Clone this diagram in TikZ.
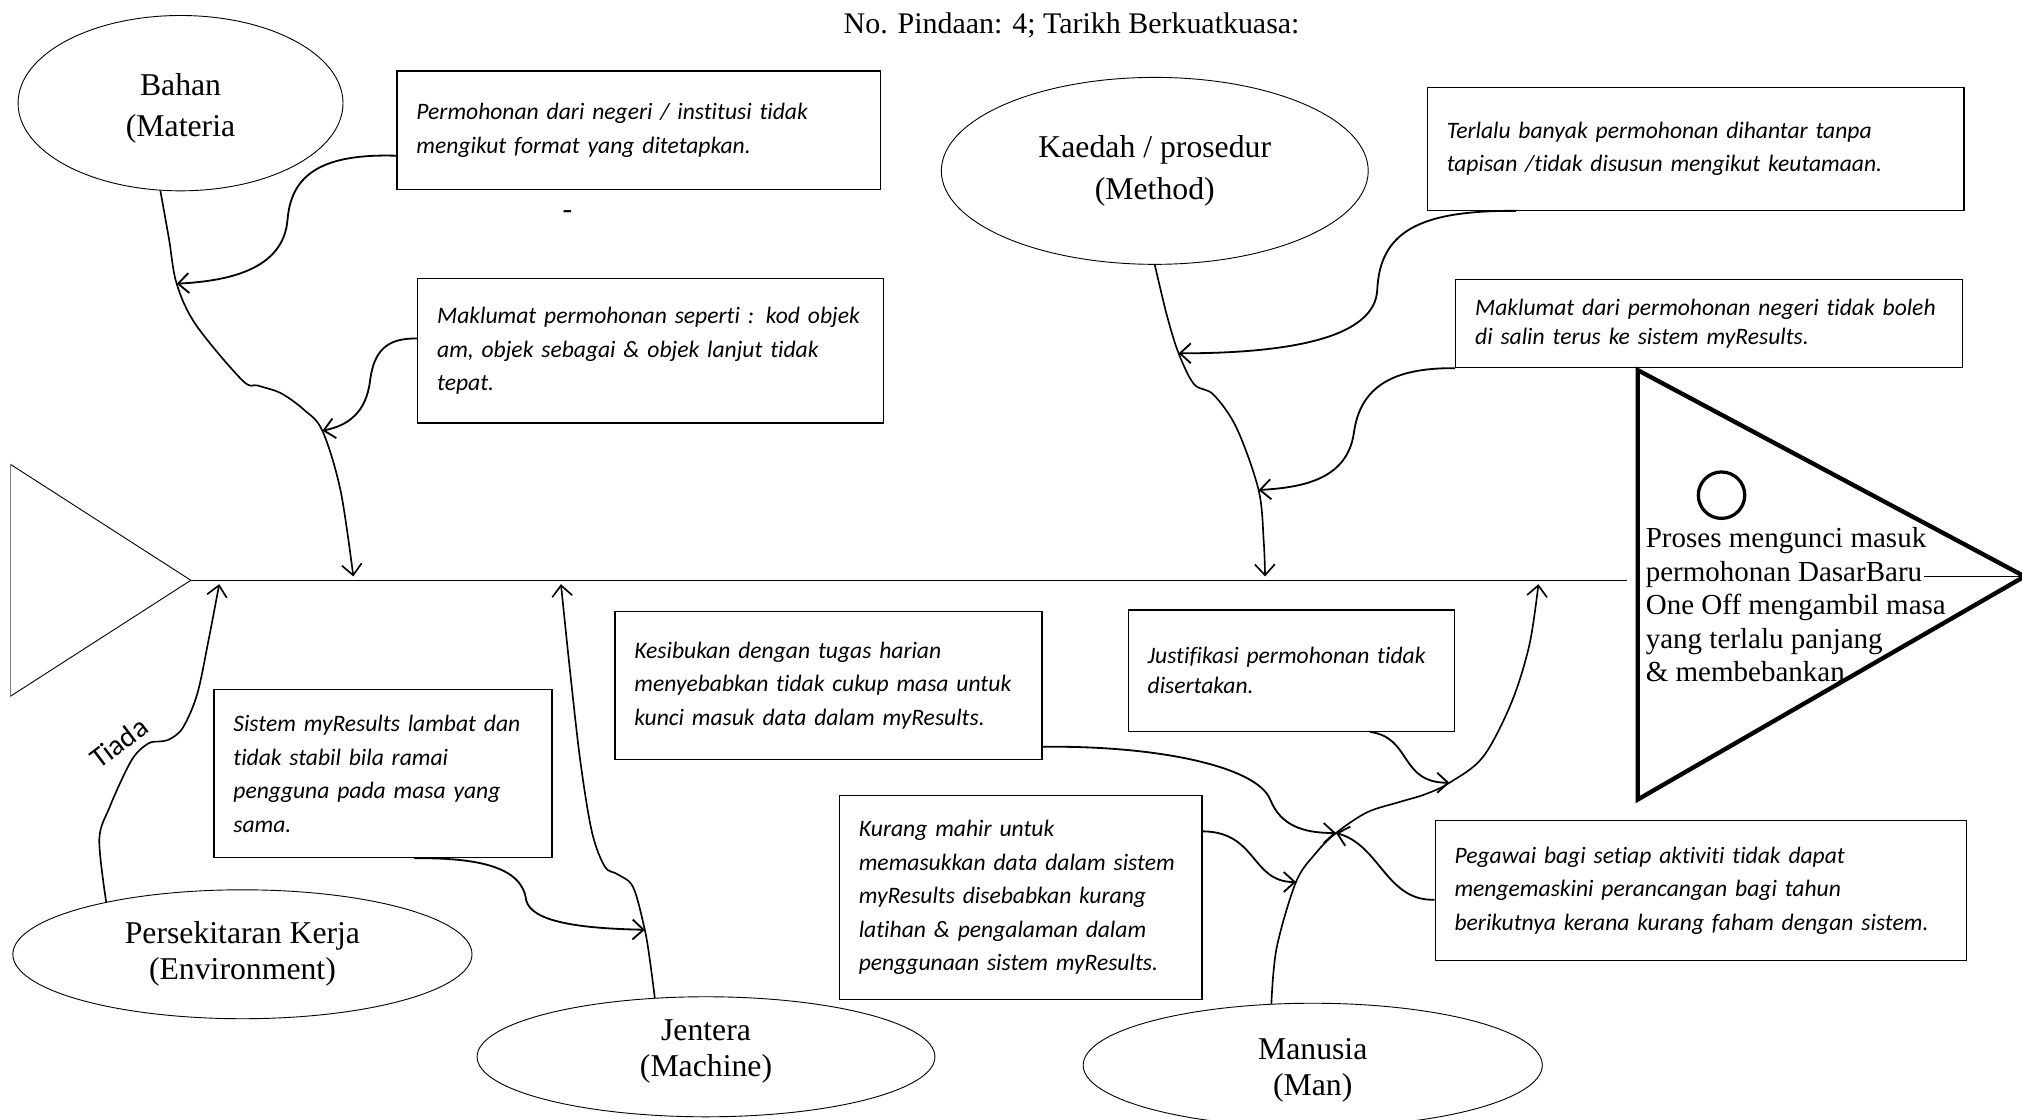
\documentclass[tikz,border=0pt]{standalone}
\usepackage{fontspec}
\setmainfont{Liberation Serif}
\newfontfamily\notefont[Ligatures=NoCommon]{Carlito}
\newcommand{\lowtxt}[1]{\raisebox{0pt}[\dimexpr\height+6pt\relax]{#1}}
\newcommand{\hightxt}[1]{\raisebox{0pt}[\height][\dimexpr\depth+6pt\relax]{#1}}
\usetikzlibrary{arrows.meta, shapes.geometric}

\begin{document}
\begin{tikzpicture}[x=0.025cm, y=-0.025cm,
  cause/.style={ellipse, draw, line width=0.5pt, inner sep=0pt, align=center},
  note/.style={draw, line width=0.7pt, inner xsep=10.67pt, inner ysep=0pt, align=left,
    font=\notefont\itshape\fontsize{13}{18.5}\selectfont},
  bone/.style={line width=0.9pt, -{Straight Barb[length=6pt,width=11pt]}},
  feed/.style={line width=1pt, -{Straight Barb[length=6pt,width=11pt]}},
  head/.style={line width=2.4pt, line join=miter}]

\useasboundingbox (0,0) rectangle (1568,868);

% title
\node[font=\fontsize{16.5}{20}\selectfont] (hdr) at (831,20) {No. Pindaan: 4; Tarikh Berkuatkuasa:};

% tail and spine
\coordinate (tTop) at (8,360);
\coordinate (tTip) at (148,450);
\coordinate (tBot) at (8,540);
\draw[line width=0.5pt] (tTop) -- (tTip) -- (tBot);
\draw[line width=0.4pt, gray] (tTop) -- (tBot);
\coordinate (sR) at (1262,450);
\draw[line width=0.8pt] (tTip) -- (sR);

% head
\coordinate (hTop) at (1270,287);
\coordinate (hTip) at (1570,447);
\coordinate (hBot) at (1270,620);
\draw[head] (hTop) -- (hTip) -- (hBot) -- cycle;
\node[circle, draw, line width=1.8pt, minimum size=25.6pt, inner sep=0pt] (ring) at (1335,384) {};
\node[anchor=west, align=left, inner sep=0pt, font=\fontsize{16}{18.5}\selectfont] (htxt) at (1276,469)
  {Proses mengunci masuk\\ permohonan DasarBaru\\ One Off mengambil masa\\ yang terlalu panjang\\ \& membebankan};
\coordinate (dbEnd) at (1492,447);
\draw[line width=0.8pt] (dbEnd) -- (hTip);

% causes
\node[cause, minimum width=179.2pt, minimum height=96.7pt, font=\fontsize{17.5}{22.8}\selectfont] (bahan) at (140,80) {\lowtxt{Bahan}\\(Materia};
\node[cause, minimum width=235.4pt, minimum height=103.1pt, font=\fontsize{17.5}{23.5}\selectfont] (kaedah) at (895.5,132.5) {Kaedah / prosedur\\(Method)};
\node[cause, minimum width=253.2pt, minimum height=71.1pt, font=\fontsize{17.5}{19.9}\selectfont] (env) at (188,740) {Persekitaran Kerja\\(Environment)};
\node[cause, minimum width=252.5pt, minimum height=66.2pt, font=\fontsize{17.5}{19.9}\selectfont] (jentera) at (547.5,819.5) {Jentera\\\hightxt{(Machine)}};
\node[cause, minimum width=253.2pt, minimum height=68.3pt, font=\fontsize{17.5}{19.9}\selectfont] (manusia) at (1018,826) {\lowtxt{Manusia}\\(Man)};

% notes
\node[note, minimum width=266.7pt, minimum height=65.4pt, text width=245.4pt] (n1) at (495.5,101)
  {Permohonan dari negeri / institusi tidak\\ mengikut format yang ditetapkan.};
\node[font=\fontsize{16}{16}\selectfont] (dash) at (440,166) {-};
\node[note, minimum width=256.8pt, minimum height=79.7pt, text width=235.4pt] (n2) at (504.5,272)
  {Maklumat permohonan seperti : kod objek\\ am, objek sebagai \& objek lanjut tidak\\ tepat.};
\node[note, minimum width=295.9pt, minimum height=67.6pt, text width=274.6pt] (n3) at (1315,115.5)
  {Terlalu banyak permohonan dihantar tanpa\\ tapisan /tidak disusun mengikut keutamaan.};
\node[note, minimum width=279.5pt, minimum height=48.4pt, text width=258.2pt, font=\notefont\itshape\fontsize{13}{16.4}\selectfont] (n4) at (1325.5,251)
  {Maklumat dari permohonan negeri tidak boleh\\ di salin terus ke sistem myResults.};
\node[note, minimum width=186.4pt, minimum height=92.5pt, text width=165pt] (n5) at (297,600)
  {Sistem myResults lambat dan\\ tidak stabil bila ramai\\ pengguna pada masa yang\\ sama.};
\node[note, minimum width=235.4pt, minimum height=81.8pt, text width=214.1pt] (n6) at (642.5,531.5)
  {Kesibukan dengan tugas harian\\ menyebabkan tidak cukup masa untuk\\ kunci masuk data dalam myResults.};
\node[note, minimum width=199.9pt, minimum height=112.4pt, text width=178.5pt] (n7) at (791.5,696)
  {Kurang mahir untuk\\ memasukkan data dalam sistem\\ myResults disebabkan kurang\\ latihan \& pengalaman dalam\\ penggunaan sistem myResults.};
\node[note, minimum width=180pt, minimum height=66.9pt, text width=158.6pt, font=\notefont\itshape\fontsize{13}{16.4}\selectfont] (n8) at (1001.5,520)
  {Justifikasi permohonan tidak\\ disertakan.};
\node[note, minimum width=293.1pt, minimum height=77.5pt, text width=271.7pt] (n9) at (1319,690.5)
  {Pegawai bagi setiap aktiviti tidak dapat\\ mengemaskini perancangan bagi tahun\\ berikutnya kerana kurang faham dengan sistem.};

% points on the bones
\coordinate (bB1) at (137,220);
\coordinate (bB2) at (250,334);
\coordinate (sB) at (274,447);
\coordinate (bK1) at (914,274);
\coordinate (bK2) at (976,380);
\coordinate (sK) at (981,447);
\coordinate (sE) at (170,453);
\coordinate (bJ1) at (500,721);
\coordinate (sJ) at (435,453);
\coordinate (bM1) at (1005,684);
\coordinate (bM2) at (1036,646);
\coordinate (bM3) at (1124,607);
\coordinate (sM) at (1193,453);

% bones
\draw[bone] plot[smooth, tension=0.55] coordinates {
(bahan.257) (131,185) (bB1) (152,252) (188,295) (200,299) (218,305) (236,318) (bB2) (264,380) (sB)
};
\draw[bone] plot[smooth, tension=0.55] coordinates {
(kaedah.south) (905,245) (bK1) (926,298) (941,306) (959,332) (bK2) (980,420) (sK)
};
\draw[bone] plot[smooth, tension=0.55] coordinates {
(env.159) (77,651) (85,626) (98,597) (106,584) (116,576) (124,575) (132,573) (142,564) (153,538) (162,495) (sE)
};
\draw[bone] plot[smooth, tension=0.55] coordinates {
(jentera.131) (504,745) (bJ1) (491,688) (479,678) (469,672) (459,645) (450,590) (442,520) (sJ)
};
\draw[bone] plot[smooth, tension=0.55] coordinates {
(manusia.124) (990,735) (bM1) (1020,662) (bM2) (1060,630) (1085,622) (1105,616) (bM3) (1150,587) (1172,545) (1186,500) (sM)
};

\node[rotate=37, inner sep=0pt, font=\notefont\fontsize{16}{18}\selectfont] (tiada) at (92,576) {Tiada};

% feeding arrows
\draw[feed] (n1.186) .. controls (250,119) and (226,135) .. (223,170) .. controls (220,210) and (175,218) .. (bB1);
\draw[feed] (n2.177) .. controls (300,262) and (290,272) .. (287,295) .. controls (284,320) and (270,330) .. (bB2);
\draw[feed] (n3.199) .. controls (1100,163) and (1070,180) .. (1068,225) .. controls (1066,262) and (1000,274) .. (bK1);
\draw[feed] (n4.south west) .. controls (1080,285) and (1055,300) .. (1050,335) .. controls (1045,372) and (1010,378) .. (bK2);
\draw[feed] (n5.290) .. controls (370,665) and (405,672) .. (408,698) .. controls (412,715) and (450,720) .. (bJ1);
\draw[feed] (n6.-16) .. controls (900,578) and (975,595) .. (985,620) .. controls (993,640) and (1010,646) .. (bM2);
\draw[feed] (n7.20) .. controls (975,645) and (970,684) .. (bM1);
\draw[feed] (n8.322) .. controls (1095,572) and (1085,607) .. (bM3);
\draw[feed] (n9.182) .. controls (1075,699) and (1070,655) .. (bM2);

\end{tikzpicture}
\end{document}
